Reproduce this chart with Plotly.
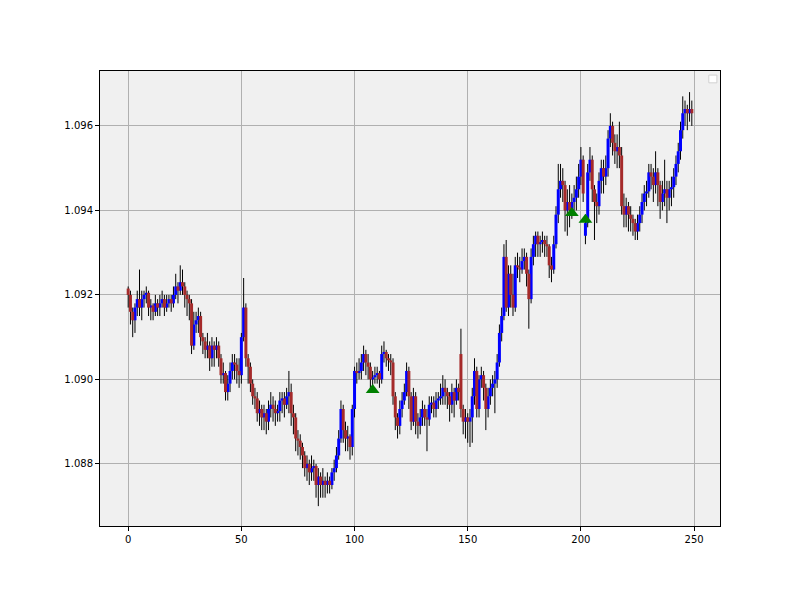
import plotly.graph_objects as go

# ---- data ----
bar_index = list(range(250))

open_ = [
1.09215,1.0920,1.0916,1.0914,1.0917,1.0919,1.0917,1.0919,1.0920,1.09205,
1.0917,1.09175,1.0916,1.0918,1.0917,1.0918,1.0919,1.0917,1.0918,1.0919,
1.0918,1.0920,1.0922,1.0921,1.0923,1.0922,1.0920,1.0919,1.0918,1.0908,
1.0913,1.0914,1.0915,1.0910,1.0909,1.0907,1.0908,1.0905,1.0908,1.0907,
1.0908,1.0905,1.0901,1.09015,1.0897,1.0899,1.0902,1.0904,1.09035,1.0902,
1.0901,1.0910,1.0917,1.0905,1.0903,1.0899,1.0896,1.08955,1.0892,1.0893,
1.0891,1.0892,1.0890,1.0893,1.0894,1.0893,1.0892,1.08925,1.0895,1.08955,
1.0894,1.0896,1.0897,1.0892,1.0891,1.0886,1.08855,1.0884,1.0882,1.0879,
1.0880,1.0878,1.0879,1.08795,1.0875,1.0877,1.0875,1.0876,1.0875,1.0876,
1.0875,1.0878,1.0879,1.0882,1.0886,1.0893,1.0888,1.0886,1.08865,1.0884,
1.0893,1.0902,1.09015,1.0902,1.0904,1.0906,1.0904,1.0903,1.0900,1.09005,
1.0901,1.09015,1.0900,1.0906,1.09065,1.0905,1.09045,1.0904,1.0896,1.0891,
1.0889,1.0893,1.0895,1.0897,1.0902,1.0896,1.0890,1.0896,1.0890,1.0889,
1.0891,1.0893,1.0891,1.08905,1.0894,1.08945,1.0893,1.0895,1.08955,1.0896,
1.0898,1.0897,1.0896,1.0894,1.0897,1.0895,1.0898,1.0906,1.0893,1.0890,
1.0891,1.0890,1.0891,1.0896,1.0902,1.0893,1.0900,1.0901,1.0898,1.0893,
1.0896,1.0898,1.0899,1.0900,1.0904,1.0911,1.0915,1.0929,1.0917,1.0925,
1.0920,1.0917,1.0927,1.09265,1.0926,1.0928,1.0929,1.0925,1.0919,1.0929,
1.0932,1.0934,1.0932,1.09325,1.0933,1.0932,1.09315,1.0927,1.0926,1.0932,
1.0939,1.0945,1.0947,1.0946,1.0940,1.0942,1.0940,1.0942,1.0943,1.0945,
1.0948,1.0952,1.0934,1.0937,1.0949,1.0952,1.0945,1.0942,1.0941,1.0947,
1.0950,1.0948,1.0950,1.0957,1.0960,1.0956,1.0954,1.0955,1.0953,1.0941,
1.0939,1.0941,1.0939,1.0938,1.0937,1.0935,1.0937,1.0939,1.0942,1.0944,
1.09445,1.0949,1.0948,1.0946,1.0949,1.0946,1.0942,1.0944,1.0945,1.0943,
1.0945,1.09455,1.0948,1.0951,1.0954,1.0959,1.0963,1.0964,1.0963,1.0964,
]

high = [
1.0922,1.0921,1.0917,1.0918,1.0921,1.0926,1.0921,1.0921,1.0922,1.0921,
1.0919,1.0918,1.0920,1.0919,1.0920,1.0921,1.0920,1.0920,1.0920,1.0920,
1.0922,1.0925,1.0923,1.0927,1.0926,1.0923,1.0921,1.0920,1.0919,1.0916,
1.0916,1.0917,1.0916,1.0911,1.0910,1.0911,1.0909,1.0910,1.0909,1.0910,
1.0909,1.0906,1.0904,1.0902,1.0901,1.0904,1.0906,1.0906,1.0905,1.0905,
1.0911,1.0924,1.0918,1.0906,1.0904,1.0900,1.0898,1.0897,1.0895,1.0894,
1.0894,1.0893,1.0895,1.0897,1.0896,1.0895,1.0894,1.0897,1.0897,1.0897,
1.0898,1.0902,1.0899,1.0894,1.0892,1.0888,1.0887,1.0885,1.0883,1.0882,
1.0881,1.0882,1.0881,1.0880,1.0879,1.0878,1.0879,1.0877,1.0878,1.0877,
1.0879,1.0881,1.0884,1.0888,1.0895,1.0894,1.0890,1.0889,1.0887,1.0894,
1.0903,1.0904,1.0905,1.0906,1.0908,1.0907,1.0906,1.0904,1.0902,1.0903,
1.0903,1.0902,1.0908,1.0909,1.0907,1.0906,1.0906,1.0905,1.0897,1.0892,
1.0895,1.0897,1.0899,1.0904,1.0903,1.0897,1.0898,1.0897,1.0892,1.0893,
1.0895,1.0894,1.0893,1.0896,1.0896,1.0896,1.0897,1.0897,1.0899,1.0901,
1.0900,1.0898,1.0897,1.0899,1.0898,1.0900,1.0899,1.0912,1.0894,1.0893,
1.0892,1.0893,1.0898,1.0905,1.0903,1.0901,1.0903,1.0902,1.0899,1.0898,
1.0900,1.0901,1.0902,1.0906,1.0913,1.0917,1.0932,1.0933,1.0927,1.0927,
1.0925,1.0929,1.0930,1.0929,1.0931,1.0931,1.0930,1.0926,1.0931,1.0934,
1.0935,1.0935,1.0934,1.0935,1.0934,1.0934,1.0932,1.0929,1.0934,1.0941,
1.0951,1.0951,1.0950,1.0947,1.0945,1.0946,1.0944,1.0946,1.0948,1.0951,
1.0955,1.0953,1.0939,1.0951,1.0955,1.0953,1.0946,1.0944,1.0949,1.0952,
1.0952,1.0953,1.0959,1.0963,1.0961,1.0958,1.0958,1.0961,1.0955,1.0944,
1.0943,1.0942,1.0941,1.0939,1.0938,1.0939,1.0941,1.0944,1.0946,1.0947,
1.0951,1.0951,1.0950,1.0954,1.0950,1.0947,1.0947,1.0952,1.0947,1.0947,
1.0948,1.0950,1.0953,1.0956,1.0961,1.0967,1.0966,1.0965,1.0968,1.0966,
]

low = [
1.0917,1.0913,1.0910,1.0911,1.0915,1.0915,1.0914,1.0917,1.0918,1.0915,
1.0914,1.0914,1.0915,1.0915,1.0915,1.0917,1.0915,1.0916,1.0917,1.0916,
1.0917,1.0919,1.0918,1.0920,1.0920,1.0917,1.0915,1.0914,1.0906,1.0907,
1.0911,1.0911,1.0908,1.0906,1.0905,1.0905,1.0902,1.0903,1.0903,1.0905,
1.0903,1.0899,1.0899,1.0895,1.0895,1.0897,1.0900,1.0900,1.0899,1.0898,
1.0899,1.0909,1.0903,1.0899,1.0897,1.0894,1.0893,1.0890,1.0889,1.0888,
1.0888,1.0887,1.0888,1.0891,1.0890,1.0889,1.0890,1.0890,1.0892,1.0891,
1.0893,1.0892,1.0889,1.0887,1.0883,1.0882,1.0881,1.0879,1.0877,1.0876,
1.0875,1.0876,1.0876,1.0872,1.0870,1.0872,1.0872,1.0872,1.0873,1.0873,
1.0874,1.0876,1.0878,1.0881,1.0885,1.0885,1.0883,1.0883,1.0881,1.0882,
1.0891,1.0899,1.0900,1.0900,1.0902,1.0901,1.0900,1.0898,1.0898,1.0899,
1.0899,1.0898,1.0899,1.0904,1.0903,1.0902,1.0901,1.0894,1.0888,1.0886,
1.0887,1.0891,1.0894,1.0896,1.0893,1.0888,1.0889,1.0887,1.0886,1.0887,
1.0889,1.0889,1.0883,1.0889,1.0892,1.0891,1.0891,1.0893,1.0894,1.0894,
1.0894,1.0893,1.0890,1.0892,1.0891,1.0894,1.0895,1.0891,1.0887,1.0886,
1.0885,1.0884,1.0885,1.0894,1.0891,1.0891,1.0898,1.0895,1.0888,1.0891,
1.0894,1.0896,1.0892,1.0898,1.0903,1.0909,1.0914,1.0916,1.0915,1.0917,
1.0915,1.0916,1.0924,1.0923,1.0925,1.0926,1.0922,1.0912,1.0918,1.0927,
1.0929,1.0929,1.0929,1.0930,1.0929,1.0929,1.0924,1.0923,1.0925,1.0931,
1.0937,1.0943,1.0942,1.0935,1.0934,1.0936,1.0938,1.0940,1.0940,1.0943,
1.0946,1.0942,1.0932,1.0936,1.0947,1.0942,1.0933,1.0937,1.0939,1.0944,
1.0944,1.0946,1.0948,1.0955,1.0953,1.0951,1.0950,1.0950,1.0939,1.0936,
1.0936,1.0935,1.0935,1.0934,1.0933,1.0933,1.0935,1.0937,1.0940,1.0941,
1.0943,1.0945,1.0942,1.0944,1.0941,1.0938,1.0940,1.0941,1.0937,1.0940,
1.0941,1.0943,1.0946,1.0949,1.0952,1.0957,1.0960,1.0959,1.0961,1.0960,
]

close = [
1.0920,1.0916,1.0914,1.0917,1.0919,1.0917,1.0919,1.0920,1.09205,1.0917,
1.09175,1.0916,1.0918,1.0917,1.0918,1.0919,1.0917,1.0918,1.0919,1.0918,
1.0920,1.0922,1.0921,1.0923,1.0922,1.0920,1.0919,1.0918,1.0908,1.0913,
1.0914,1.0915,1.0910,1.0909,1.0907,1.0908,1.0905,1.0908,1.0907,1.0908,
1.0905,1.0901,1.09015,1.0897,1.0899,1.0902,1.0904,1.09035,1.0902,1.0901,
1.0910,1.0917,1.0905,1.0903,1.0899,1.0896,1.08955,1.0892,1.0893,1.0891,
1.0892,1.0890,1.0893,1.0894,1.0893,1.0892,1.08925,1.0895,1.08955,1.0894,
1.0896,1.0897,1.0892,1.0891,1.0886,1.08855,1.0884,1.0882,1.0879,1.0880,
1.0878,1.0879,1.08795,1.0875,1.0877,1.0875,1.0876,1.0875,1.0876,1.0875,
1.0878,1.0879,1.0882,1.0886,1.0893,1.0888,1.0886,1.08865,1.0884,1.0893,
1.0902,1.09015,1.0902,1.0904,1.0906,1.0904,1.0903,1.0900,1.09005,1.0901,
1.09015,1.0900,1.0906,1.09065,1.0905,1.09045,1.0904,1.0896,1.0891,1.0889,
1.0893,1.0895,1.0897,1.0902,1.0896,1.0890,1.0896,1.0890,1.0889,1.0891,
1.0893,1.0891,1.08905,1.0894,1.08945,1.0893,1.0895,1.08955,1.0896,1.0898,
1.0897,1.0896,1.0894,1.0897,1.0895,1.0898,1.0897,1.0893,1.0890,1.0891,
1.0890,1.0891,1.0896,1.0902,1.0893,1.0900,1.0901,1.0898,1.0893,1.0896,
1.0898,1.0899,1.0900,1.0904,1.0911,1.0915,1.0929,1.0917,1.0925,1.0920,
1.0917,1.0927,1.09265,1.0926,1.0928,1.0929,1.0925,1.0919,1.0929,1.0932,
1.0934,1.0932,1.09325,1.0933,1.0932,1.09315,1.0927,1.0926,1.0932,1.0939,
1.0945,1.0947,1.0946,1.0940,1.0942,1.0940,1.0942,1.0943,1.0945,1.0948,
1.0952,1.0944,1.0937,1.0949,1.0952,1.0945,1.0942,1.0941,1.0947,1.0950,
1.0948,1.0950,1.0957,1.0960,1.0956,1.0954,1.0955,1.0953,1.0941,1.0939,
1.0941,1.0939,1.0938,1.0937,1.0935,1.0937,1.0939,1.0942,1.0944,1.09445,
1.0949,1.0948,1.0946,1.0949,1.0946,1.0942,1.0944,1.0945,1.0943,1.0945,
1.09455,1.0948,1.0951,1.0954,1.0959,1.0963,1.0964,1.0963,1.0964,1.0963,
]

signal_x = [108, 196, 202]
signal_y = [1.08975, 1.09394, 1.09378]

x_ticks = [0, 50, 100, 150, 200, 250]
y_ticks = [1.088, 1.090, 1.092, 1.094, 1.096]

UP = "#0000ff"
DOWN = "#a52a2a"

# ---- build segments ----
wx, wy = [], []
ux, uy = [], []
dx, dy = [], []
for i, o, h, l, c in zip(bar_index, open_, high, low, close):
    wx += [i, i, None]
    wy += [l, h, None]
    if c >= o:
        ux += [i, i, None]
        uy += [o, c, None]
    else:
        dx += [i, i, None]
        dy += [o, c, None]

fig = go.Figure()
fig.add_trace(go.Scatter(x=wx, y=wy, mode="lines",
                         line=dict(color="black", width=1), showlegend=False, hoverinfo="skip"))
fig.add_trace(go.Scatter(x=ux, y=uy, mode="lines",
                         line=dict(color=UP, width=3), showlegend=False, hoverinfo="skip"))
fig.add_trace(go.Scatter(x=dx, y=dy, mode="lines",
                         line=dict(color=DOWN, width=3), showlegend=False, hoverinfo="skip"))
fig.add_trace(go.Scatter(x=signal_x, y=signal_y, mode="markers",
                         marker=dict(symbol="triangle-up", size=12, color="green"),
                         showlegend=False))

axis_common = dict(
    showline=True, mirror=True, linecolor="black", linewidth=1,
    ticks="outside", ticklen=4, tickcolor="black", tickwidth=1,
    showgrid=True, gridcolor="#b0b0b0", gridwidth=1, zeroline=False,
    tickfont=dict(family="DejaVu Sans", size=10, color="black"),
)

fig.update_layout(
    width=800, height=591,
    margin=dict(l=92, r=88, t=63, b=73),
    paper_bgcolor="white",
    plot_bgcolor="#f0f0f0",
    font=dict(family="DejaVu Sans", size=10, color="black"),
    xaxis=dict(range=[-12.45, 261.45], tickvals=x_ticks,
               ticktext=[str(v) for v in x_ticks], **axis_common),
    yaxis=dict(range=[1.08653, 1.09730], tickvals=y_ticks,
               ticktext=[f"{v:.3f}" for v in y_ticks], **axis_common),
    showlegend=False,
)

# empty legend frame (top right, as in the reference)
fig.add_shape(type="rect", xref="paper", yref="paper",
              x0=0.982, x1=0.995, y0=0.974, y1=0.991,
              line=dict(color="#d0d0d0", width=1), fillcolor="white")

fig.write_html("out.html")
